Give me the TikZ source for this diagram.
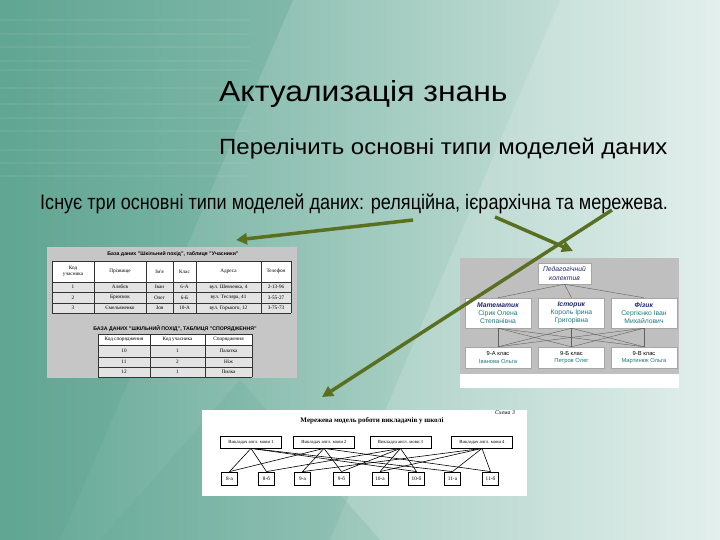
\documentclass[tikz,border=0pt]{standalone}
\usepackage{fontspec}
\setmainfont{Liberation Sans}
\newfontfamily\serifnet{Liberation Serif}
\newfontfamily\titlefont[FakeStretch=1.10]{Liberation Sans}
\newfontfamily\taskfont[FakeStretch=1.09]{Liberation Sans}
\newfontfamily\answerfont[FakeStretch=0.86]{Liberation Sans}
\usetikzlibrary{arrows.meta,calc}

\definecolor{bgdark}{RGB}{96,166,146}
\definecolor{bgmid}{RGB}{170,212,198}
\definecolor{bglight}{RGB}{222,237,233}
\definecolor{arrowgreen}{RGB}{88,112,32}
\definecolor{navyink}{RGB}{30,40,110}
\definecolor{tealink}{RGB}{30,120,120}

\begin{document}
\begin{tikzpicture}[x=1pt, y=-1pt,
    cell/.style={font=\serifnet\fontsize{5.2}{5.6}\selectfont, inner sep=0pt, align=center},
    hbox/.style={draw=gray!70, fill=white, align=center, inner sep=0pt, font=\fontsize{6.8}{8.2}\selectfont},
    nbox/.style={draw, thick, fill=white, inner sep=0pt, font=\serifnet\fontsize{4.7}{5}\selectfont},
    pointer/.style={line width=3.5pt, arrowgreen, -{Triangle[length=11pt,width=11pt]}}]
    \useasboundingbox (0,0) rectangle (720,540);

    % background
    \shade[left color=bgdark, middle color=bgmid, right color=bglight] (0,0) rectangle (720,540);
    \fill[bgdark, opacity=.35] (0,0) -- (293,0) -- (60,540) -- (0,540) -- cycle;
    \fill[white, opacity=.15] (330,540) -- (560,0) -- (720,0) -- (720,540) -- cycle;
    \fill[bgdark, opacity=.2] (100,540) -- (240,380) -- (380,540) -- cycle;
    \foreach \y in {20,34,47,61,70,88,104,118,131,150,163,176}
        \draw[white, opacity=.06, line width=1.2pt] (0,\y) -- (250,\y);

    % texts
    \node[anchor=base west, inner sep=0pt, font=\titlefont\fontsize{29}{31}\selectfont] (title) at (219,102) {Актуализація знань};
    \node[anchor=base west, inner sep=0pt, font=\taskfont\fontsize{22}{24}\selectfont] (task) at (219,155) {Перелічить основні типи моделей даних};
    \node[anchor=base west, inner sep=0pt, font=\answerfont\fontsize{21}{23}\selectfont] (answer) at (40,210) {Існує три основні типи моделей даних: реляційна, ієрархічна та мережева.};

    % relational tables
    \fill[gray!45] (47,247) rectangle (297,378);
    \node[cell, font=\bfseries\fontsize{5.2}{6}\selectfont] (pupilsname) at (173,254) {База даних "Шкільний похід", таблиця "Учасники"};
    \fill[white] (52,261) rectangle (291,282);
    \fill[gray!22] (52,282) rectangle (291,313);
    \foreach \x in {52,94,146,173,196,261,291} \draw[gray!40!black, line width=.4pt] (\x,261) -- (\x,313);
    \foreach \y in {261,282,292,303,313} \draw[gray!40!black, line width=.4pt] (52,\y) -- (291,\y);
    \foreach \t [count=\i] in {Код\\учасника,Прізвище,Ім'я,Клас,Адреса,Телефон}
        \node[cell] (uh\i) at ({\ifcase\i\or73\or120\or159.5\or184.5\or228.5\or276\fi},271.5) {\t};
    \foreach \y/\a/\b/\c/\d/\e/\f in {287/1/Алябєв/Іван/6-А/{вул. Шевченка, 4}/2-13-96,
            297.5/2/Бринзюк/Олег/6-Б/{вул. Тесляра, 41}/3-55-27,
            308/3/Ємельяненко/Зоя/10-А/{вул. Горького, 12}/3-75-73} {
        \node[cell] (ua\a) at (73,\y) {\a};
        \node[cell] (ub\a) at (120,\y) {\b};
        \node[cell] (uc\a) at (159.5,\y) {\c};
        \node[cell] (ud\a) at (184.5,\y) {\d};
        \node[cell] (ue\a) at (228.5,\y) {\e};
        \node[cell] (uf\a) at (276,\y) {\f};
    }
    \node[cell, font=\bfseries\fontsize{5.2}{6}\selectfont] (gearname) at (175,329) {БАЗА ДАНИХ "ШКІЛЬНИЙ ПОХІД", ТАБЛИЦЯ "СПОРЯДЖЕННЯ"};
    \fill[white] (98,334) rectangle (252,345);
    \fill[gray!22] (98,345) rectangle (252,377);
    \foreach \x in {98,150,205,252} \draw[gray!40!black, line width=.4pt] (\x,334) -- (\x,377);
    \foreach \y in {334,345,357,367,377} \draw[gray!40!black, line width=.4pt] (98,\y) -- (252,\y);
    \node[cell] (gh1) at (124,339.5) {Код спорядження};
    \node[cell] (gh2) at (177.5,339.5) {Код учасника};
    \node[cell] (gh3) at (228.5,339.5) {Спорядження};
    \foreach \y/\a/\b/\c in {351/10/1/Палатка, 362/11/2/Ніж, 372/12/1/Пилка} {
        \node[cell] (ga\a) at (124,\y) {\a};
        \node[cell] (gb\a) at (177.5,\y) {\b};
        \node[cell] (gc\a) at (228.5,\y) {\c};
    }

    % hierarchical model
    \fill[gray!50] (460,258) rectangle (679,374);
    \fill[white] (460,374) rectangle (679,388);
    \node[hbox, minimum width=53, minimum height=21, text=navyink] (staff) at (564.5,273.5) {\textit{Педагогічний}\\\textit{колектив}};
    \node[hbox, minimum width=66, minimum height=30] (math) at (498,313) {\textcolor{navyink}{\textbf{\textit{Математик}}}\\\textcolor{tealink}{Сірик Олена}\\\textcolor{tealink}{Степанівна}};
    \node[hbox, minimum width=66, minimum height=30] (hist) at (571.5,313) {\textcolor{navyink}{\textbf{\textit{Історик}}}\\\textcolor{tealink}{Король Ірина}\\\textcolor{tealink}{Григорівна}};
    \node[hbox, minimum width=66, minimum height=30] (phys) at (644,313) {\textcolor{navyink}{\textbf{\textit{Фізик}}}\\\textcolor{tealink}{Сергієнко Іван}\\\textcolor{tealink}{Михайлович}};
    \node[hbox, minimum width=66, minimum height=21, font=\fontsize{5.8}{7.2}\selectfont] (ninea) at (498,357.5) {9-А клас\\\textcolor{tealink}{Іванова Ольга}};
    \node[hbox, minimum width=66, minimum height=21, font=\fontsize{5.8}{7.2}\selectfont] (nineb) at (571.5,357.5) {9-Б клас\\\textcolor{tealink}{Петров Олег}};
    \node[hbox, minimum width=66, minimum height=21, font=\fontsize{5.8}{7.2}\selectfont] (ninev) at (644,357.5) {9-В клас\\\textcolor{tealink}{Мартинюк Ольга}};
    \foreach \t in {math,hist,phys} \draw[gray!75!black, line width=.4pt] (staff.south) -- (\t.north);
    \foreach \t in {math,hist,phys}
        \foreach \c in {ninea,nineb,ninev} \draw[gray!75!black, line width=.4pt] (\t.south) -- (\c.north);

    % network model
    \fill[white] (202,410) rectangle (527,496);
    \node[inner sep=0pt, font=\serifnet\bfseries\fontsize{7}{8}\selectfont] (netname) at (372,421) {Мережева модель роботи викладачів у школі};
    \node[inner sep=0pt, font=\serifnet\itshape\fontsize{5.8}{6}\selectfont] (scheme) at (505,413) {Схема 3};
    \foreach \x [count=\i] in {251,324,400.5,482}
        \node[nbox, minimum width=61, minimum height=12] (tch\i) at (\x,442) {Викладач англ. мови \i};
    \foreach \x/\t [count=\i] in {229.5/8-а,266.5/8-б,302.5/9-а,341.5/9-б,380/10-а,416.5/10-б,452.5/11-а,490.5/11-б}
        \node[nbox, minimum width=16, minimum height=13, font=\serifnet\fontsize{5.3}{6}\selectfont] (cls\i) at (\x,478.5) {\t};
    \foreach \a/\b in {1/1,1/2,1/6,1/7,2/3,2/4,2/1,2/8,3/5,3/6,3/2,3/4,4/7,4/8,4/3,4/5}
        \draw[line width=.6pt] (tch\a.south) -- (cls\b.north);

    % pointers
    \coordinate (relTail) at (413,220);
    \coordinate (relHead) at (236,240);
    \coordinate (hierTail) at (495,217);
    \coordinate (hierHead) at (573,251);
    \coordinate (netTail) at (612,210);
    \coordinate (netHead) at (322,397);
    \draw[pointer] (relTail) -- (relHead);
    \draw[pointer] (hierTail) -- (hierHead);
    \draw[pointer] (netTail) -- (netHead);
\end{tikzpicture}
\end{document}
